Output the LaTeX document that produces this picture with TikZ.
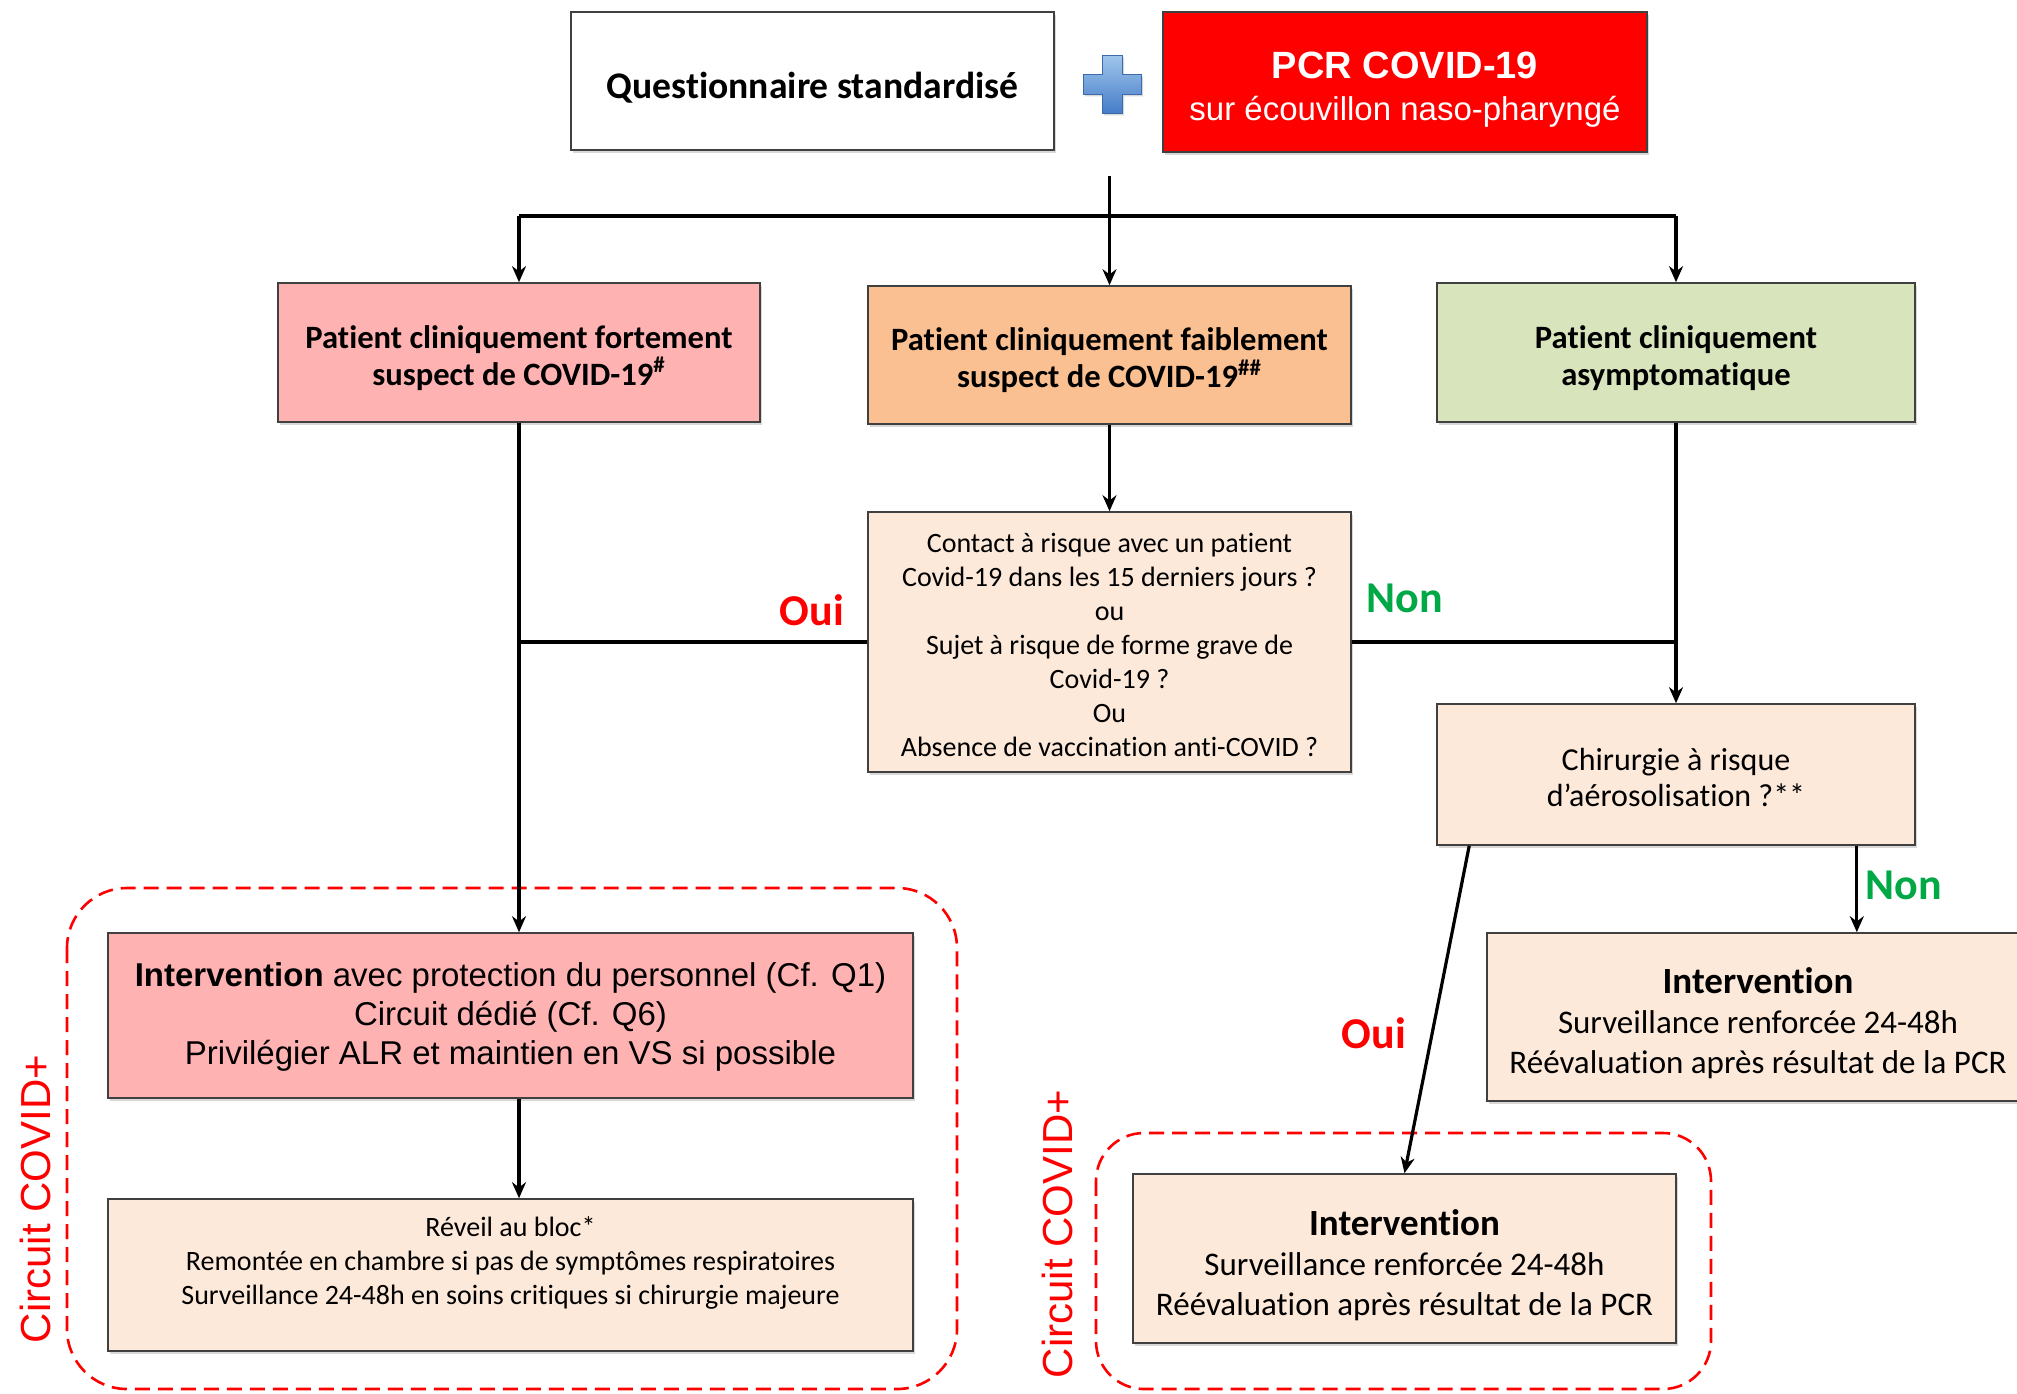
\documentclass[tikz,border=0pt]{standalone}
\usepackage{fontspec}
\setmainfont[Ligatures=NoCommon]{Carlito}
\newfontfamily\arialf{Liberation Sans}
\usetikzlibrary{arrows.meta,shadows,calc}
\definecolor{pinkbox}{RGB}{255,178,178}
\definecolor{orangebox}{RGB}{250,192,145}
\definecolor{greenbox}{RGB}{216,228,188}
\definecolor{peachbox}{RGB}{253,233,217}
\definecolor{nongreen}{RGB}{0,168,70}
\definecolor{plustop}{RGB}{160,198,236}
\definecolor{plusbot}{RGB}{70,125,200}
\begin{document}
\begin{tikzpicture}[x=0.5pt,y=-0.5pt,
  box/.style={draw=black!75, line width=0.8pt, rectangle, inner sep=0pt,
    drop shadow={shadow xshift=1.2pt,shadow yshift=-1.6pt,opacity=0.3}},
  txt/.style={align=center, inner sep=0pt},
  arr/.style={line width=1.6pt, -{Stealth[length=8pt,width=7pt]}},
  conn/.style={line width=1.6pt},
  circuit/.style={draw=red, line width=1.3pt, dash pattern=on 7.5pt off 4pt},
  circlabel/.style={rotate=90, text=red, font=\arialf\fontsize{21}{25}\selectfont, inner sep=0pt},
  ouilab/.style={text=red, font=\bfseries\fontsize{22}{26}\selectfont, inner sep=0pt},
  nonlab/.style={text=nongreen, font=\bfseries\fontsize{22}{26}\selectfont, inner sep=0pt},
  head/.style={font=\bfseries\fontsize{16.3}{18.5}\selectfont},
  small/.style={font=\fontsize{14}{17}\selectfont},
  interv/.style={font=\fontsize{16.5}{20}\selectfont}
]
\clip (0,0) rectangle (2017,1393);
\fill[white] (0,0) rectangle (2017,1393);

% top row
\node[box, fill=white, minimum width=241.5pt, minimum height=69pt] (Q) at (812.5,81) {};
\node[txt, font=\bfseries\fontsize{18.8}{22}\selectfont] (Qt) at ([yshift=-3.2pt]Q.center) {Questionnaire standardisé};
\node[box, fill=red, minimum width=242pt, minimum height=70pt] (PCR) at (1405,82) {};
\node[txt, text=white, font=\arialf\fontsize{16.5}{21}\selectfont] (PCRt) at ([yshift=-3.8pt]PCR.center)
  {{\bfseries\fontsize{19}{21}\selectfont PCR COVID-19}\\sur écouvillon naso-pharyngé};
\shade[top color=plustop, bottom color=plusbot, draw=plusbot!85!black, line width=0.3pt,
  drop shadow={shadow xshift=1pt,shadow yshift=-1.2pt,opacity=0.3}]
  (1102,55) -- (1122,55) -- (1122,74) -- (1141,74) -- (1141,94) -- (1122,94) -- (1122,113)
  -- (1102,113) -- (1102,94) -- (1083,94) -- (1083,74) -- (1102,74) -- cycle;

% second row
\node[box, fill=pinkbox, minimum width=241pt, minimum height=69.5pt] (B1) at (519,352.5) {};
\node[txt, head] (B1t) at ([yshift=-2.6pt]B1.center)
  {Patient cliniquement fortement\\suspect de COVID-19\textsuperscript{\#}};
\node[box, fill=orangebox, minimum width=241.5pt, minimum height=69pt] (B2) at (1109.5,355) {};
\node[txt, head] (B2t) at ([yshift=-2.6pt]B2.center)
  {Patient cliniquement faiblement\\suspect de COVID-19\textsuperscript{\#\#}};
\node[box, fill=greenbox, minimum width=239pt, minimum height=69.5pt] (B3) at (1676,352.5) {};
\node[txt, head] (B3t) at ([yshift=-2.6pt]B3.center)
  {Patient cliniquement\\asymptomatique};

% question box
\node[box, fill=peachbox, minimum width=241.5pt, minimum height=130pt] (C) at (1109.5,642) {};
\node[txt, small] (Ct) at ([yshift=-1.3pt]C.center)
  {Contact à risque avec un patient\\Covid-19 dans les 15 derniers jours ?\\ou\\Sujet à risque de forme grave de\\Covid-19 ?\\Ou\\Absence de vaccination anti-COVID ?};

\node[box, fill=peachbox, minimum width=239pt, minimum height=70.5pt] (Ch) at (1676,774.5) {};
\node[txt, font=\fontsize{16}{18}\selectfont] (Cht) at ([yshift=-1.3pt]Ch.center)
  {Chirurgie à risque\\d’aérosolisation ?**};

% dashed circuits
\draw[circuit, rounded corners=30pt] (67,888) rectangle (957,1389);
\draw[circuit, rounded corners=24pt] (1096,1133) rectangle (1711,1389);
\node[circlabel] (c1) at (35,1199) {Circuit COVID+};
\node[circlabel] (c2) at (1057,1234) {Circuit COVID+};

% left column
\node[box, fill=pinkbox, minimum width=402.5pt, minimum height=82.5pt] (I1) at (510.5,1015.5) {};
\node[txt, font=\arialf\fontsize{16.5}{19.5}\selectfont] (I1t) at ([yshift=-0.6pt]I1.center)
  {\textbf{Intervention} avec protection du personnel (Cf. Q1)\\Circuit dédié (Cf. Q6)\\Privilégier ALR et maintien en VS si possible};
\node[box, fill=peachbox, minimum width=402.5pt, minimum height=76pt] (R) at (510.5,1275) {};
\node[txt, small] (Rt) at ([yshift=5.9pt]R.center)
  {Réveil au bloc*\\Remontée en chambre si pas de symptômes respiratoires\\Surveillance 24-48h en soins critiques si chirurgie majeure};

% right outcomes
\node[box, fill=peachbox, minimum width=271pt, minimum height=84pt] (I3) at (1758,1017) {};
\node[txt, interv] (I3t) at ([yshift=-3.2pt]I3.center)
  {{\bfseries\fontsize{18.5}{20}\selectfont Intervention}\\Surveillance renforcée 24-48h\\Réévaluation après résultat de la PCR};
\node[box, fill=peachbox, minimum width=271.5pt, minimum height=84.5pt] (I2) at (1404.5,1258.5) {};
\node[txt, interv] (I2t) at ([yshift=-3.2pt]I2.center)
  {{\bfseries\fontsize{18.5}{20}\selectfont Intervention}\\Surveillance renforcée 24-48h\\Réévaluation après résultat de la PCR};

% connectors
\coordinate (s0) at (1109.5,176);
\coordinate (s1) at (1109.5,216);
\draw[conn] (s0) -- (s1);
\draw[conn] (B1.north |- s1) -- (B3.north |- s1);
\draw[arr] (B1.north |- s1) -- (B1.north);
\draw[arr] (s1) -- (B2.north);
\draw[arr] (B3.north |- s1) -- (B3.north);

\draw[arr] (B1.south) -- (B1.south |- I1.north);
\draw[arr] (B1.south |- I1.south) -- (B1.south |- R.north);
\draw[arr] (B2.south) -- (C.north);
\draw[conn] (C.west) -- (C.west -| B1.south);
\draw[conn] (C.east) -- (C.east -| B3.south);
\draw[arr] (B3.south) -- (Ch.north);

\coordinate (nonpt) at ($(Ch.south east)+(-59,0)$);
\coordinate (ouipt) at ($(Ch.south west)+(33,0)$);
\draw[arr] (nonpt) -- (nonpt |- I3.north);
\draw[arr] (ouipt) -- (I2.north);

% labels
\node[ouilab] (oui1) at (812,610) {Oui};
\node[nonlab] (non1) at (1405,598) {Non};
\node[nonlab] (non2) at (1904,885) {Non};
\node[ouilab] (oui2) at (1374,1033) {Oui};
\end{tikzpicture}
\end{document}
